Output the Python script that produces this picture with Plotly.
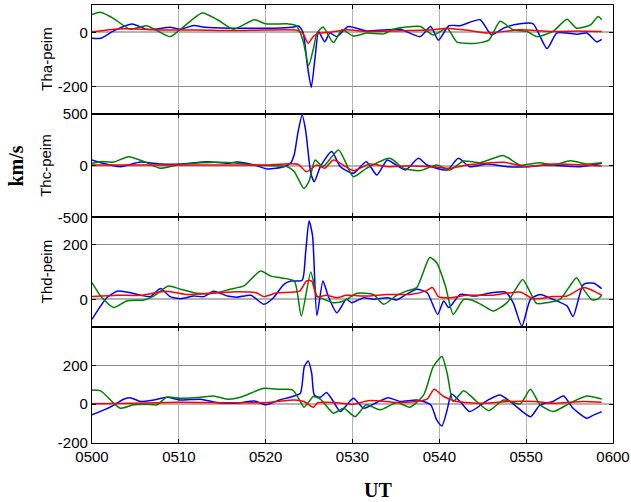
import plotly.graph_objects as go

# x tick labels (UT, minutes after 0500)
tick_minutes = [0, 10, 20, 30, 40, 50, 60]
tick_labels = ["0500", "0510", "0520", "0530", "0540", "0550", "0600"]
panel_labels = ["Tha-peim", "Thc-peim", "Thd-peim", ""]

# ---------------- Panel 1: Tha-peim ----------------
p1_blue_t = [0, 1, 2.5, 4.6, 6.3, 7.5, 9, 10.2, 11.7, 13, 16, 18, 21, 23, 23.8, 24.3, 24.8, 25.25, 25.7, 26.1,
             26.8, 27.4, 28.2, 29.5, 31.6, 33.5, 35.5, 37.8, 39, 39.9, 41.1, 42.4, 44.7, 46.0, 47.4, 49.3,
             50.8, 52.4, 53.5, 54.7, 55.8, 57, 58.1, 58.7]
p1_blue_v = [-22, -22, 5, 30, 11, 12, 18, 11, 25, 18, 15, 15, 15, 18, 23, 0, -120, -202, -90, 2,
             -35, -3, -16, 21, 5, 8, 11, -16, 21, -29, 24, 24, 46, -10, 15, 31,
             31, -60, -3, -3, -7, -3, -35, -26]
p1_green_t = [0, 1, 2.5, 4.4, 6.3, 9, 10.2, 12.7, 14.5, 16.3, 18.7, 20, 22.5, 23.5, 24.3, 24.95, 25.5, 25.9,
              26.6, 27.8, 28.8, 30.1, 31.6, 33.6, 34.7, 37.8, 39.3, 40.9, 42, 44, 45.7, 47, 48.5, 50.1,
              51.2, 53.1, 54.7, 55.8, 57.4, 58.3, 58.7]
p1_green_v = [65, 73, 50, 11, 24, -16, 11, 71, 45, 11, 46, 31, 31, 25, -30, -122, -60, -3,
              19, -38, 9, -14, -3, -6, 11, 21, -10, 15, -35, -41, -29, 40, 9, 3,
              -16, 3, 48, 15, 27, 58, 46]
p1_red_t = [0, 3, 5, 8, 12, 16, 20, 23.5, 24.3, 24.9, 25.5, 26.3, 27.5, 29.3, 31.6, 35, 39.3, 40.9, 43,
            45.5, 49.3, 52.8, 56, 58.7]
p1_red_v = [2, 12, 12, 8, 8, 6, 8, 8, -5, -41, -15, -3, 0, 9, 3, 5, 9, 15, 8,
            -3, 9, 3, 5, 3]

# ---------------- Panel 2: Thc-peim ----------------
p2_blue_t = [0, 1, 3.3, 5.6, 7.9, 10.2, 13.3, 15.6, 16.7, 18.7, 20.2, 22.1, 22.9, 23.3, 23.7, 24.2, 24.6,
             25.2, 25.6, 26.3, 27.6, 28.6, 30.1, 31.6, 32.8, 34, 34.7, 36.1, 37.6, 38.6, 40.9, 42.2,
             43.5, 45.5, 47.8, 50.1, 52.4, 56.2, 58.7]
p2_blue_v = [55, 29, -10, 35, 16, 16, 39, 23, 35, 6, -32, -10, 29, 110, 313, 491, 345,
             -74, -155, -10, 136, -10, -74, 39, -90, 55, 23, -42, 71, 6, -42, 71,
             -10, 16, -10, -10, 6, -10, 23]
p2_green_t = [0, 1, 2.5, 4.2, 6, 7.9, 9.8, 12.5, 16.3, 18.7, 22.5, 23.3, 24.4, 25.0, 25.7, 26.6, 28.4,
              30.1, 31.6, 34.3, 35.9, 37.8, 39.7, 41.2, 42.8, 44.7, 47.4, 49.3, 51.6, 53.1, 55.1, 57, 58.7]
p2_green_v = [23, 39, 35, 87, 39, -26, 6, 29, 29, 3, -10, -58, -220, -150, 55, -10, 152,
              -107, -26, 71, -26, -48, 6, -42, 45, 29, 97, 6, 29, 6, 48, 16, 29]
p2_red_t = [0, 5, 10, 15, 20, 23.7, 24.7, 25.9, 26.8, 27.8, 30.1, 32, 34, 36.2, 39.3, 41.2, 43.2,
            47.4, 50.1, 53.1, 58.7]
p2_red_v = [6, 6, 6, 6, 6, 13, -58, 6, -26, 55, -48, 16, -10, -3, -10, -26, 6,
            32, -10, 16, -3]

# ---------------- Panel 3: Thd-peim ----------------
p3_blue_t = [0, 1, 1.7, 2.9, 4, 5.6, 6.7, 7.9, 9, 10.2, 11.7, 12.9, 14, 15.6, 16.7, 18.3, 19.8, 20.9,
             22.1, 22.9, 24.2, 24.6, 25, 25.4, 25.9, 26.6, 27.2, 28.2, 29.3, 29.9, 31.3, 32.4, 34,
             35.1, 36.2, 37.4, 38.6, 39.8, 40.5, 41.1, 42.4, 44, 46, 47.6, 48.5, 49.5, 50.5, 51.6,
             53.1, 54.7, 55.4, 56.6, 57.8, 58.7]
p3_blue_v = [-73, -24, 6, 30, 27, 15, 10, 40, 10, 2, 12, 10, 30, 12, 8, 15, -18, 6,
             55, 67, 70, 171, 287, 232, -59, 67, 12, -49, 0, -12, 6, 0, 6,
             -2, 18, 37, 24, -55, -6, -30, 18, 12, 24, 27, -12, -98, 0, 18,
             0, -24, -63, 55, 59, 39]
p3_green_t = [0, 1, 2.5, 4, 6, 7.1, 8.8, 10.2, 12.1, 14, 15.9, 17.5, 19.4, 20.6, 21.7, 23.3, 24.1,
              25.2, 25.9, 26.3, 27.8, 29, 30.5, 32.4, 33.6, 35.1, 36.2, 37.4, 38.9, 39.7, 40.7, 41.6,
              42.8, 44, 45.1, 46.2, 47.8, 48.9, 49.6, 50.5, 51.2, 52.4, 53.9, 54.9, 55.8, 56.6,
              57.6, 58.3, 58.7]
p3_green_v = [61, 12, -30, -6, -2, 12, 49, 37, 22, 22, 37, 49, 104, 85, 79, 67, -61,
              100, 12, 6, -12, -6, 22, 18, -18, 15, 30, 43, 153, 134, 49, -55,
              0, -6, -24, -43, -12, 43, 73, 24, -15, -12, 0, 43, 79, 37,
              -2, 2, 15]
p3_red_t = [0, 2.9, 5.6, 8.6, 10.8, 14.4, 16.7, 18.9, 19.8, 21.3, 23.9, 24.7, 25.3, 25.9, 27, 28.2,
            29.3, 31.6, 34, 36.6, 38.4, 39.2, 39.9, 41.2, 43.2, 46.2, 49.3, 50.8, 53.1, 54.7, 56.6,
            57.8, 58.7]
p3_red_v = [10, 15, 15, 30, 18, 24, 28, 24, 10, 24, 30, 67, 67, 10, 15, 6,
            15, 12, 18, 18, 30, 43, 10, 6, 15, 15, 27, 2, 10, 12, 43,
            30, 15]

# ---------------- Panel 4 ----------------
p4_blue_t = [0, 2.1, 3.7, 4.4, 5.6, 7.1, 8.6, 10.2, 12.5, 14, 15.6, 17.1, 18.7, 20, 21.6, 23.1, 24.0,
             24.45, 24.9, 25.3, 25.6, 26.3, 27.0, 27.8, 28.6, 30.1, 31.3, 32.8, 34.1, 35.5, 37.4, 39,
             39.7, 40.3, 40.9, 41.4, 42.4, 43.5, 45.5, 47, 48.5, 50.5, 51.6, 53.1, 54.3, 55.4, 57,
             57.8, 58.7]
p4_blue_v = [-55, -15, 27, 34, 14, 22, 36, 22, 26, 12, 5, 8, 17, -3, 22, 40, 57,
             194, 223, 160, 48, 36, 60, 14, -38, 31, -21, 9, 34, 14, 22, -3,
             -81, -112, -29, 53, 14, -38, 19, 48, 2, -64, -3, 14, 43, -21, -72,
             -55, -38]
p4_green_t = [0, 1, 2.5, 3.3, 4.8, 6.3, 7.5, 8.6, 10.2, 12.5, 14, 15.6, 17.1, 18.7, 19.8, 21.6, 23.1,
              23.9, 24.4, 25, 25.5, 26.3, 27.8, 29, 30.3, 31.6, 33.2, 35.1, 36.6, 38.2, 39.3, 40.3,
              40.9, 41.6, 42.8, 44.3, 45.7, 47.4, 49.3, 50.5, 51.6, 53.1, 54.7, 55.8, 57, 58.7]
p4_green_v = [74, 69, 5, -21, -3, 0, -3, 36, 31, 36, 43, 26, 36, 65, 82, 77, 74,
              22, -15, 14, 40, 26, -46, -21, -64, -3, -29, 9, -15, 48, 194, 246,
              160, 14, 70, 14, -33, 22, 2, 77, -3, -38, -3, 22, 43, 27]
p4_red_t = [0, 5, 10, 15, 20, 23.3, 24.4, 25.5, 26, 28, 30, 32, 35, 37.4, 38.6, 39.4, 40.5, 42, 45,
            48, 51, 53.1, 56.6, 58.7]
p4_red_v = [2, 5, 10, 8, 8, 22, 14, -15, 8, 9, 0, 19, 9, 14, 26, 77, 40, 14, 5,
            14, 14, 5, 14, 10]

panels = [
    [(p1_blue_t, p1_blue_v), (p1_green_t, p1_green_v), (p1_red_t, p1_red_v)],
    [(p2_blue_t, p2_blue_v), (p2_green_t, p2_green_v), (p2_red_t, p2_red_v)],
    [(p3_blue_t, p3_blue_v), (p3_green_t, p3_green_v), (p3_red_t, p3_red_v)],
    [(p4_blue_t, p4_blue_v), (p4_green_t, p4_green_v), (p4_red_t, p4_red_v)],
]
y_ranges = [[-300, 100], [-500, 500], [-100, 300], [-200, 400]]
y_ticks = [[-200, 0], [-500, 0, 500], [0, 200], [-200, 0, 200]]
y_ticktext = [["-200", "0"], ["-500", "0", "500"], ["0", "200"], ["-200", "0", "200"]]
domains = [[0.7511, 1.0], [0.5153, 0.7511], [0.2655, 0.5153], [0.0, 0.2655]]
colors = ["#0000FF", "#008000", "#FF0000"]

fig = go.Figure()
for i, series in enumerate(panels):
    for (t, v), c in zip(series, colors):
        fig.add_trace(go.Scatter(
            x=t, y=v, mode="lines",
            line=dict(color=c, width=1.5, shape="spline", smoothing=0.6),
            xaxis="x" if i == 0 else f"x{i+1}",
            yaxis="y" if i == 0 else f"y{i+1}",
            showlegend=False, hoverinfo="skip"))

font_sans = "Liberation Sans, Arial, sans-serif"
layout = dict(
    width=631, height=502, autosize=False,
    margin=dict(l=92, r=18, t=5, b=59, pad=0, autoexpand=False),
    paper_bgcolor="white", plot_bgcolor="white",
    font=dict(family=font_sans, size=15, color="black"),
    showlegend=False,
)
for i in range(4):
    xk = "xaxis" if i == 0 else f"xaxis{i+1}"
    yk = "yaxis" if i == 0 else f"yaxis{i+1}"
    layout[xk] = dict(
        domain=[0, 1], anchor="y" if i == 0 else f"y{i+1}",
        range=[0, 60], tickvals=tick_minutes, ticktext=tick_labels,
        showticklabels=(i == 3), ticks="inside", ticklen=4, tickcolor="black",
        showline=True, linecolor="black", linewidth=1.2, mirror="ticks",
        showgrid=True, gridcolor="#b4b4b4", gridwidth=1.3, zeroline=False,
        automargin=False,
        tickfont=dict(size=15, family=font_sans),
    )
    layout[yk] = dict(
        domain=domains[i], anchor="x" if i == 0 else f"x{i+1}",
        range=y_ranges[i], tickvals=y_ticks[i], ticktext=y_ticktext[i],
        ticks="inside", ticklen=4, tickcolor="black",
        showline=True, linecolor="black", linewidth=1.2, mirror="ticks",
        showgrid=True, gridcolor="#8c8c8c", gridwidth=1,
        zeroline=True, zerolinecolor="#b4b4b4", zerolinewidth=2,
        automargin=False,
        tickfont=dict(size=15, family=font_sans),
    )
fig.update_layout(**layout)

annotations = []
for i, lab in enumerate(panel_labels):
    if lab:
        annotations.append(dict(
            text=lab, xref="paper", yref="paper",
            x=-0.088, y=(domains[i][0] + domains[i][1]) / 2,
            xanchor="center", yanchor="middle", textangle=-90, showarrow=False,
            font=dict(family=font_sans, size=15, color="black")))
annotations.append(dict(
    text="<b>km/s</b>", xref="paper", yref="paper",
    x=(15.5 - 92) / 521, y=(443 - 166) / 438, xanchor="center", yanchor="middle",
    textangle=-90, showarrow=False,
    font=dict(family="Liberation Serif, Times New Roman, serif", size=20, color="black")))
annotations.append(dict(
    text="<b>UT</b>", xref="paper", yref="paper",
    x=(377.5 - 92) / 521, y=(443 - 490) / 438, xanchor="center", yanchor="middle",
    showarrow=False,
    font=dict(family="Liberation Serif, Times New Roman, serif", size=20, color="black")))
fig.update_layout(annotations=annotations)

fig.write_html(
    "out.html",
    config={"displayModeBar": False, "responsive": False},
    post_script="document.body.style.margin='0px';document.body.style.padding='0px';document.body.style.overflow='hidden';",
)
